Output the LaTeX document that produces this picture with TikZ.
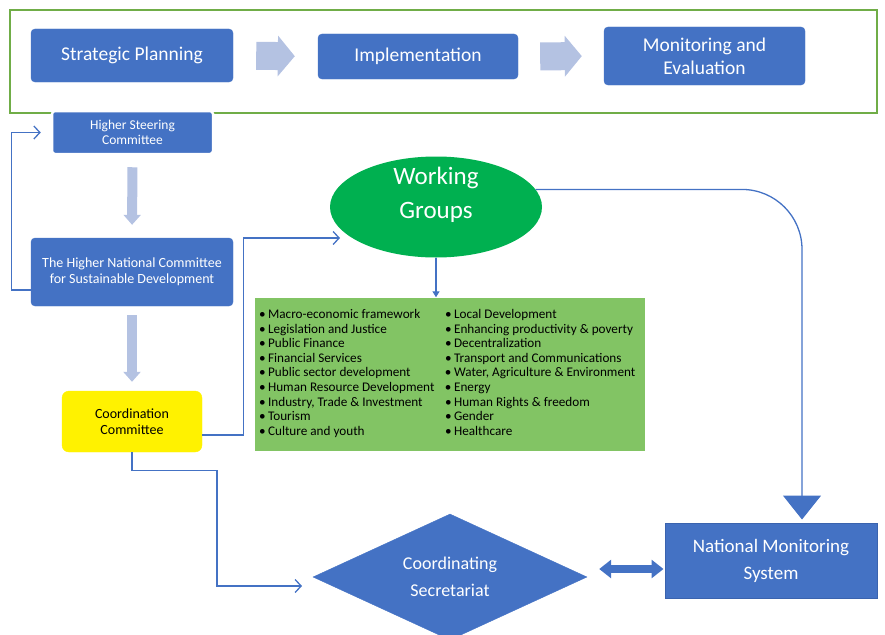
\documentclass[tikz,border=0pt]{standalone}
\usepackage{fontspec}
\setmainfont{Carlito}
\usetikzlibrary{arrows.meta}
\usetikzlibrary{positioning}
\usetikzlibrary{shapes.geometric}
\definecolor{boxblue}{HTML}{4472C4}
\definecolor{edgeblue}{HTML}{3A63AE}
\definecolor{paleblue}{HTML}{B4C2E2}
\definecolor{framegreen}{HTML}{70AD47}
\definecolor{wggreen}{HTML}{00B050}
\definecolor{listgreen}{HTML}{82C464}
\newcommand{\toptext}{\fontsize{19.5}{23}\selectfont}
\newcommand{\midtext}{\fontsize{14}{16}\selectfont}
\newcommand{\smalltext}{\fontsize{13.5}{15}\selectfont}
\newcommand{\bigtext}{\fontsize{19}{27}\selectfont}
\newcommand{\gitem}[1]{\textbullet\hspace{2.5pt}#1}
\tikzset{stage/.style = {fill=boxblue, draw=boxblue, rounded corners=4pt,
                         text=white, align=center, inner sep=0}}
\tikzset{yellowbox/.style = {fill=yellow, draw=yellow, rounded corners=7pt,
                             align=center, inner sep=0, font=\midtext}}
\tikzset{phases/.style = {draw=framegreen, line width=1.4pt, inner sep=0}}
\tikzset{flowarrow/.style = {draw=paleblue, line width=28pt,
                             -{Triangle[length=17pt,width=40pt]}}}
\tikzset{downarrow/.style = {draw=paleblue, line width=10pt,
                             -{Triangle[length=10pt,width=17pt]}}}
\tikzset{bothways/.style = {draw=boxblue, line width=8pt,
                            {Triangle[length=12pt,width=18pt]}-{Triangle[length=12pt,width=18pt]}}}
\tikzset{link/.style = {draw=boxblue, line width=1.3pt,
                        -{Straight Barb[length=6pt,width=13pt]}}}

\begin{document}
\begin{tikzpicture}[x=1pt, y=-1pt]
    \useasboundingbox (0,0) rectangle (885,634);

    \node [phases, minimum width=867pt, minimum height=103pt] (cycle) at (443.5,61.5) {};
    \node [stage, minimum width=202pt, minimum height=53pt, font=\toptext] (plan) at (132,55.5) {Strategic Planning};
    \node [stage, minimum width=200pt, minimum height=45pt, font=\toptext] (impl) at (418,56.5) {Implementation};
    \node [stage, minimum width=201pt, minimum height=58pt, font=\toptext] (monev) at (704.5,56) {Monitoring and\\Evaluation};

    \node [stage, draw=white, line width=2.5pt, rounded corners=3pt, minimum width=161pt, minimum height=43pt,
           font=\smalltext] (hsc) at (132.5,132.5) {Higher Steering\\Committee};
    \node [stage, minimum width=202pt, minimum height=68pt, font=\midtext] (hncsd) at (132,272) {The Higher National Committee\\for Sustainable Development};
    \node [yellowbox, minimum width=140pt, minimum height=61pt] (coord) at (132,421.5) {Coordination\\Committee};

    \node [ellipse, fill=wggreen, minimum width=212pt, minimum height=101pt, inner sep=0,
           label={[yshift=12pt, text=white, align=center, font=\fontsize{25}{34}\selectfont]center:Working\\Groups}] (wg) at (436,207) {};
    \node [fill=listgreen, minimum width=390pt, minimum height=153pt, inner sep=0,
           font=\fontsize{13.2}{14.6}\selectfont] (groups) at (450,374) {%
        \begin{tabular}{@{}p{186pt}@{}p{196pt}@{}}
        \gitem{Macro-economic framework} & \gitem{Local Development}\\
        \gitem{Legislation and Justice} & \gitem{Enhancing productivity \& poverty}\\
        \gitem{Public Finance} & \gitem{Decentralization}\\
        \gitem{Financial Services} & \gitem{Transport and Communications}\\
        \gitem{Public sector development} & \gitem{Water, Agriculture \& Environment}\\
        \gitem{Human Resource Development} & \gitem{Energy}\\
        \gitem{Industry, Trade \& Investment} & \gitem{Human Rights \& freedom}\\
        \gitem{Tourism} & \gitem{Gender}\\
        \gitem{Culture and youth} & \gitem{Healthcare}
        \end{tabular}};

    \node [diamond, fill=boxblue, draw=boxblue, aspect=2.17, minimum width=274pt, minimum height=126pt,
           inner sep=0, text=white, align=center, font=\fontsize{18}{27}\selectfont] (sec) at (450,577) {Coordinating\\Secretariat};
    \node [stage, rounded corners=0, draw=edgeblue, line width=1pt, minimum width=212pt, minimum height=75pt,
           font=\bigtext] (nms) at (771,560.5) {National Monitoring\\System};

    \coordinate (wgin) at (340,238);
    \coordinate (secin) at (302,586);

    \draw [flowarrow, shorten <=23pt, shorten >=23pt] (plan.east) -- (impl.west);
    \draw [flowarrow, shorten <=22pt, shorten >=22pt] (impl.east) -- (monev.west);
    \draw [downarrow, shorten <=12pt, shorten >=13pt] (hsc.south) -- (hncsd.north);
    \draw [downarrow, shorten <=9pt, shorten >=9pt] (hncsd.south) -- (coord.north);

    \draw [link, shorten >=10pt] ([yshift=-18pt]hncsd.west) -- ++(-19,0) |- (hsc.west);
    \draw [link] ([yshift=-13.5pt]coord.east) -- ++(41,0) |- (wgin);
    \draw [link] (coord.south) -- ++(0,18) -- ++(85,0) |- (secin);
    \draw [draw=boxblue, line width=1.3pt, -{Triangle[length=6pt,width=7pt]}] (wg.south) -- (wg.south |- groups.north);
    \draw [draw=boxblue, line width=1.3pt, rounded corners=60pt, shorten >=3pt,
           -{Triangle[length=24pt,width=38pt]}] (wg.10) -| ([xshift=31pt]nms.north);
    \draw [bothways, shorten <=1pt, shorten >=12pt] ([yshift=-8.5pt]nms.west) -- ([yshift=-8.5pt]nms.west -| sec.east);
\end{tikzpicture}
\end{document}
